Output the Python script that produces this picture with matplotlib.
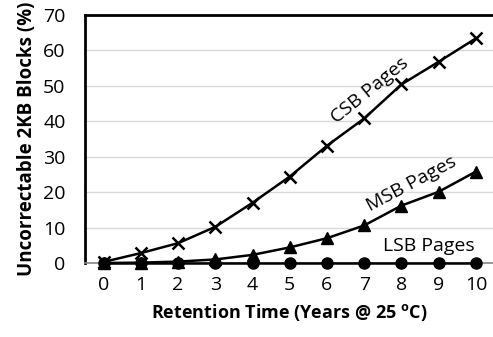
import matplotlib.pyplot as plt

years = [0, 1, 2, 3, 4, 5, 6, 7, 8, 9, 10]
csb = [0.3, 2.8, 5.6, 10.2, 17.0, 24.4, 33.1, 40.8, 50.4, 56.8, 63.4]
msb = [0.0, 0.1, 0.4, 1.0, 2.3, 4.4, 7.0, 10.6, 16.2, 20.1, 25.8]
lsb = [0, 0, 0, 0, 0, 0, 0, 0, 0, 0, 0]

plt.rcParams['font.family'] = ['Open Sans', 'DejaVu Sans']

fig = plt.figure(figsize=(4.93, 3.37), dpi=100)
ax = fig.add_axes([85 / 493, 1 - 263 / 337, 408 / 493, 248 / 337])

ax.plot(years, csb, color='black', lw=1.8, marker='x', ms=9, mew=1.8, clip_on=False, zorder=3)
ax.plot(years, msb, color='black', lw=1.8, marker='^', ms=8, clip_on=False, zorder=3)
ax.plot(years, lsb, color='black', lw=1.8, marker='o', ms=8, clip_on=False, zorder=4)

ax.set_xlim(-0.5, 10.46)
ax.set_ylim(0, 70)
ax.set_yticks(range(0, 71, 10))
ax.set_xticks(years)
ax.grid(axis='y', color='#d9d9d9', lw=1)
ax.set_axisbelow(True)
ax.spines['right'].set_visible(False)
ax.spines['left'].set_linewidth(2)
ax.spines['top'].set_linewidth(2)
ax.spines['bottom'].set_color('#888888')
ax.spines['bottom'].set_linewidth(1.2)
ax.tick_params(length=0, labelsize=14)
ax.tick_params(axis='x', pad=9)
ax.tick_params(axis='y', pad=14)

ax.set_xlabel('Retention Time (Years @ 25 $^{\\mathregular{o}}$C)', fontsize=13, fontweight='bold', labelpad=6)
ax.set_ylabel('Uncorrectable 2KB Blocks (%)', fontsize=13.5, fontweight='bold', labelpad=4)

ax.text(7.15, 48.8, 'CSB Pages', fontsize=14, rotation=39, ha='center', va='center')
ax.text(8.28, 22.3, 'MSB Pages', fontsize=14, rotation=28, ha='center', va='center')
ax.text(8.74, 4.9, 'LSB Pages', fontsize=14, ha='center', va='center')

fig.savefig('out.png', dpi=100)
